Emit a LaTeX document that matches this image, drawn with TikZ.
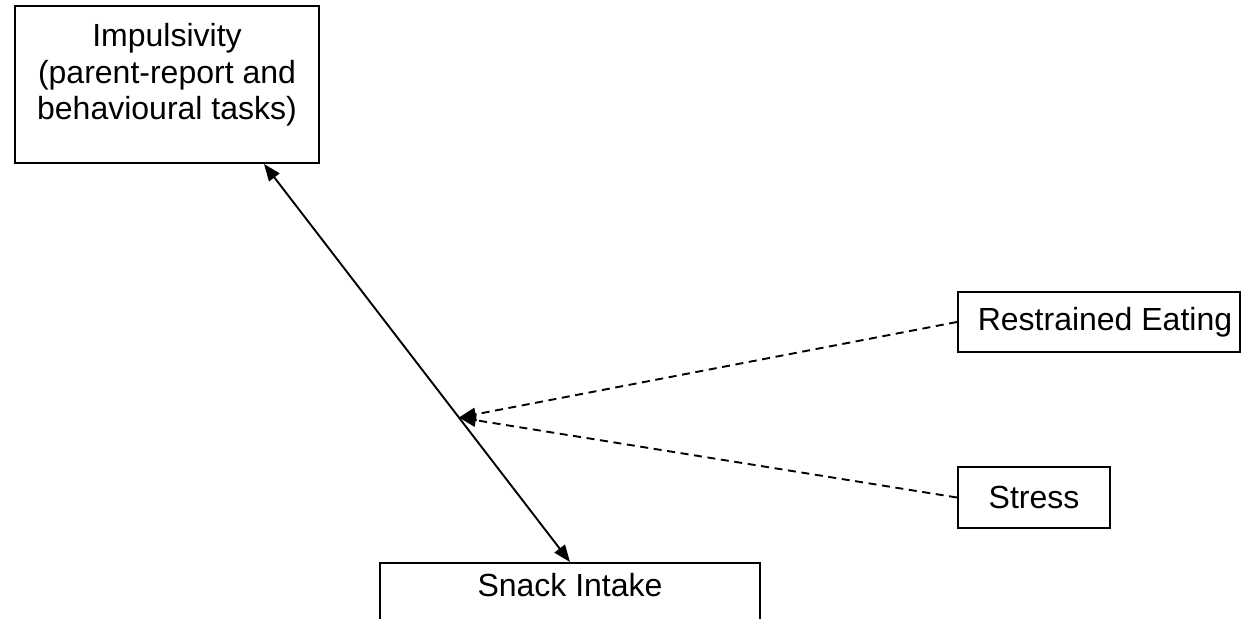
\documentclass[tikz,border=0pt]{standalone}
\usepackage{fontspec}
\setmainfont{Liberation Sans}
\usetikzlibrary{arrows.meta,calc}
\begin{document}
\begin{tikzpicture}[x=0.5pt,y=-0.5pt,
  txt/.style={font=\fontsize{16}{18.25}\selectfont},
  box/.style={draw, line width=1pt, inner sep=0pt, txt},
  conn/.style={line width=0.95pt},
  dsh/.style={conn, dash pattern=on 4pt off 2.8pt}]
\useasboundingbox (0,0) rectangle (1243,619);
\clip (0,0) rectangle (1243,619);
\node[box, anchor=north west, minimum width=152pt, minimum height=78.5pt,
  label={[anchor=north, align=center, inner sep=0pt, txt, yshift=-9pt]north:Impulsivity\\(parent-report and\\behavioural tasks)}] (imp) at (14,5) {};
\node[box, anchor=north, minimum width=190pt, minimum height=50pt,
  label={[anchor=base, inner sep=0pt, txt, yshift=-17.5pt]north:Snack Intake}] (snack) at (570,562) {};
\node[box, minimum width=141pt, minimum height=30pt] (rest) at (1099,322) {\hspace*{6pt}Restrained Eating};
\node[box, minimum width=76pt, minimum height=30.5pt] (stress) at (1034,497.5) {Stress};
\coordinate (a) at ($(imp.south west)+(250,0)$);
\coordinate (b) at (snack.north);
\coordinate (m) at ($(a)!0.637!(b)$);
\draw[conn, {Triangle[length=8.5pt,width=6.5pt]}-{Triangle[length=8.5pt,width=6.5pt]}] (a) -- (b);
\draw[dsh, -{Triangle[length=8.5pt,width=6.5pt]}] (rest.west) -- (m);
\draw[dsh, -{Triangle[length=8.5pt,width=6.5pt]}] (stress.west) -- (m);
\end{tikzpicture}
\end{document}
